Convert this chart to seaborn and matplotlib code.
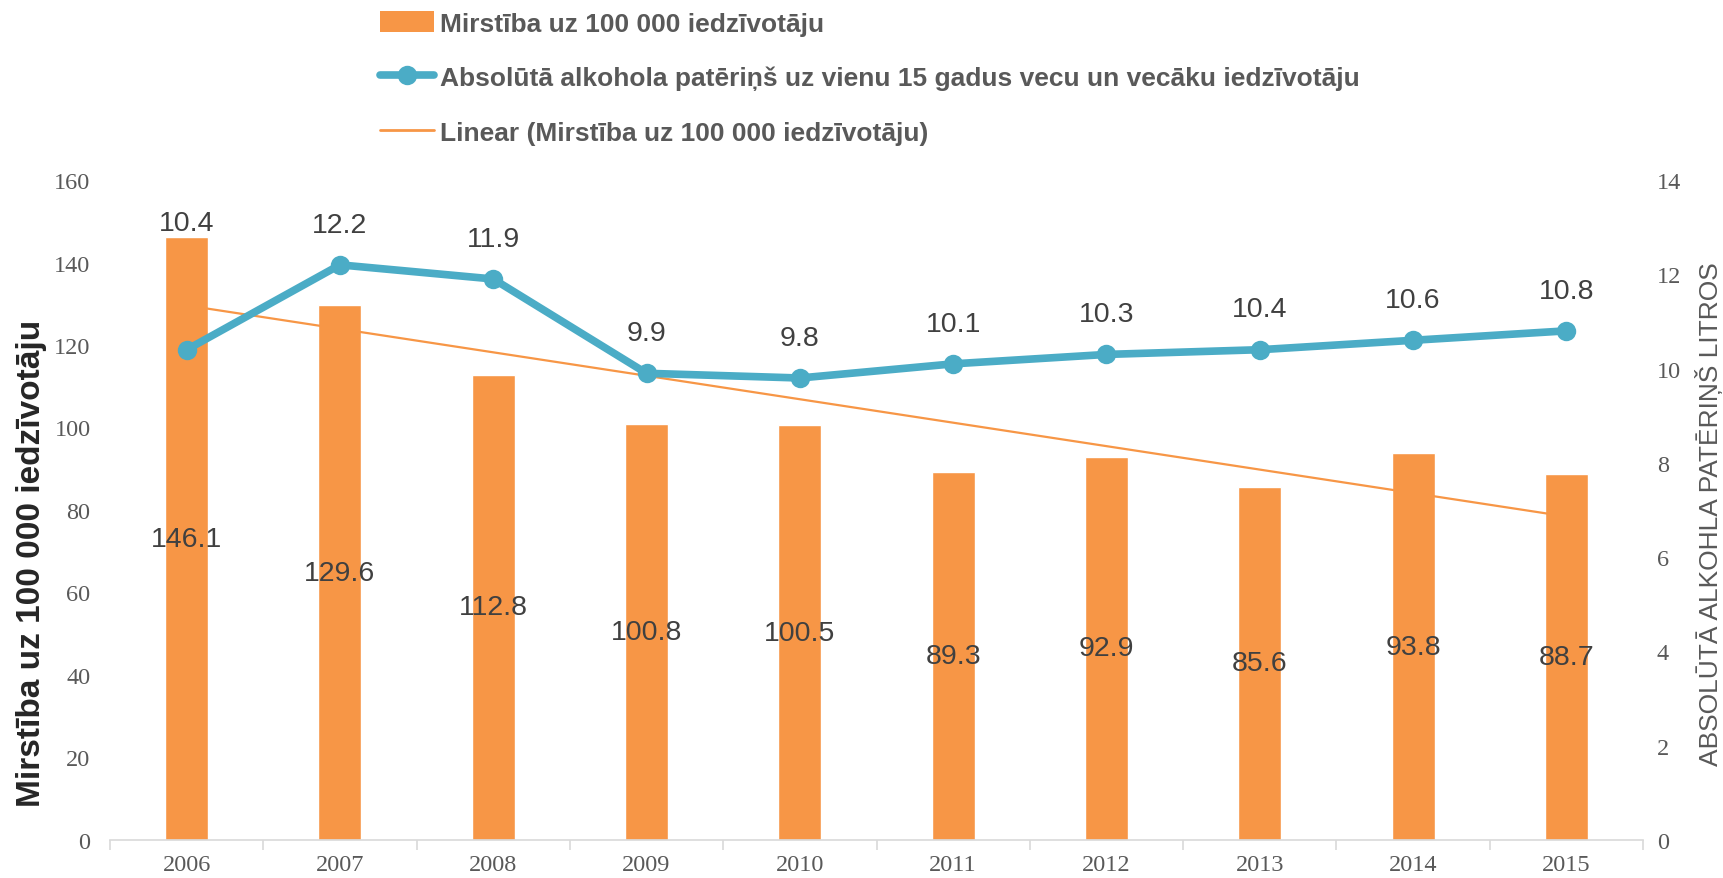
import numpy as np
import pandas as pd
import matplotlib
matplotlib.use("Agg")
import matplotlib.pyplot as plt
import seaborn as sns
from matplotlib.lines import Line2D
from matplotlib.patches import Patch

years = ["2006", "2007", "2008", "2009", "2010", "2011", "2012", "2013", "2014", "2015"]
mortality = [146.1, 129.6, 112.8, 100.8, 100.5, 89.3, 92.9, 85.6, 93.8, 88.7]
alcohol = [10.4, 12.2, 11.9, 9.9, 9.8, 10.1, 10.3, 10.4, 10.6, 10.8]

bar_label = "Mirstība uz 100 000 iedzīvotāju"
line_label = "Absolūtā alkohola patēriņš uz vienu 15 gadus vecu un vecāku iedzīvotāju"
trend_label = "Linear (Mirstība uz 100 000 iedzīvotāju)"
left_ylabel = "Mirstība uz 100 000 iedzīvotāju"
right_ylabel = "ABSOLŪTĀ ALKOHLA PATĒRIŅŠ LITROS"

ORANGE = "#F79646"
BLUE = "#4BACC6"
GREY = "#595959"
DARK = "#404040"
NARROW = ["Liberation Sans Narrow", "Liberation Sans", "DejaVu Sans"]
SERIF = ["Liberation Serif", "DejaVu Serif"]
SANS = ["Liberation Sans", "DejaVu Sans"]

sns.set_theme(style="white")
plt.rcParams["font.family"] = SANS

df = pd.DataFrame({"year": years, "mort": mortality, "alc": alcohol,
                   "pos": np.arange(len(years))})

fig = plt.figure(figsize=(17.23, 8.79), dpi=100)
ax = fig.add_axes([110 / 1723, 1 - 841 / 879, (1643 - 110) / 1723, (841 - 181) / 879])

sns.barplot(data=df, x="year", y="mort", color=ORANGE, saturation=1, width=0.28, ax=ax)
sns.regplot(data=df, x="pos", y="mort", scatter=False, ci=None, truncate=True,
            line_kws=dict(color=ORANGE, lw=1.6), ax=ax)
ax.set_xlim(-0.5, len(years) - 0.5)
ax.set_ylim(0, 160)
ax.set_yticks(np.arange(0, 161, 20))

ax2 = ax.twinx()
sns.lineplot(data=df, x="pos", y="alc", color=BLUE, lw=5.5, marker="o", markersize=14,
             markeredgewidth=0, ax=ax2)
ax2.set_ylim(0, 14)
ax2.set_yticks(np.arange(0, 15, 2))
ax2.set_xlim(-0.5, len(years) - 0.5)

# data labels
for i, v in enumerate(mortality):
    ax.text(i, v / 2, f"{v:.1f}", ha="center", va="center", fontsize=20.5, color=DARK)
for i, v in enumerate(alcohol):
    bar_top = mortality[i] / 160 * 14
    if bar_top > v:
        anchor, off = bar_top, 10
    else:
        anchor, off = v, 29
    ax2.annotate(f"{v:.1f}", (i, anchor), xytext=(0, off), textcoords="offset points",
                 ha="center", va="center", fontsize=20.5, color=DARK)

# axes styling
for a in (ax, ax2):
    for s in ("left", "right", "top"):
        a.spines[s].set_visible(False)
    a.spines["bottom"].set_color("#D9D9D9")
    a.spines["bottom"].set_linewidth(1.2)
    a.grid(False)
ax2.spines["bottom"].set_visible(False)

ax.set_xticks(np.arange(len(years)))
ax.set_xticklabels(years, fontfamily=SERIF, fontsize=17.5, color=GREY)
ax.set_xticks(np.arange(-0.5, len(years), 1), minor=True)
ax.tick_params(axis="x", which="major", length=0, pad=10)
ax.tick_params(axis="x", which="minor", length=7, width=1.2, color="#D9D9D9", direction="out", bottom=True)
ax.tick_params(axis="y", length=0, pad=14, labelsize=17.5, labelcolor=GREY)
for t in ax.get_yticklabels():
    t.set_fontfamily(SERIF)
ax2.tick_params(axis="y", length=0, pad=10, labelsize=17.5, labelcolor=GREY)
for t in ax2.get_yticklabels():
    t.set_fontfamily(SERIF)

ax.set_xlabel("")
ax.set_ylabel(left_ylabel, fontfamily=NARROW, fontweight="bold", fontsize=24, color="#262626",
              va="center")
ax.yaxis.set_label_coords(-0.0515, 0.42)
ax2.set_xlabel("")
ax2.set_ylabel(right_ylabel, fontfamily=NARROW, fontsize=19, color=GREY, rotation=90,
               va="center")
ax2.yaxis.set_label_coords(1.043, 0.495)

handles = [
    Patch(facecolor=ORANGE, edgecolor="none"),
    Line2D([0], [0], color=BLUE, lw=5.5, marker="o", markersize=14, markeredgewidth=0),
    Line2D([0], [0], color=ORANGE, lw=2),
]
leg = fig.legend(handles, [bar_label, line_label, trend_label], loc="upper left",
                 bbox_to_anchor=(369 / 1723, 1 - 1 / 879), frameon=False, borderaxespad=0,
                 prop=dict(family=NARROW, weight="bold", size=19),
                 handlelength=2.05, handleheight=0.9, handletextpad=0.25, labelspacing=1.12)
for t in leg.get_texts():
    t.set_color(GREY)

fig.savefig("out.png", dpi=100)
